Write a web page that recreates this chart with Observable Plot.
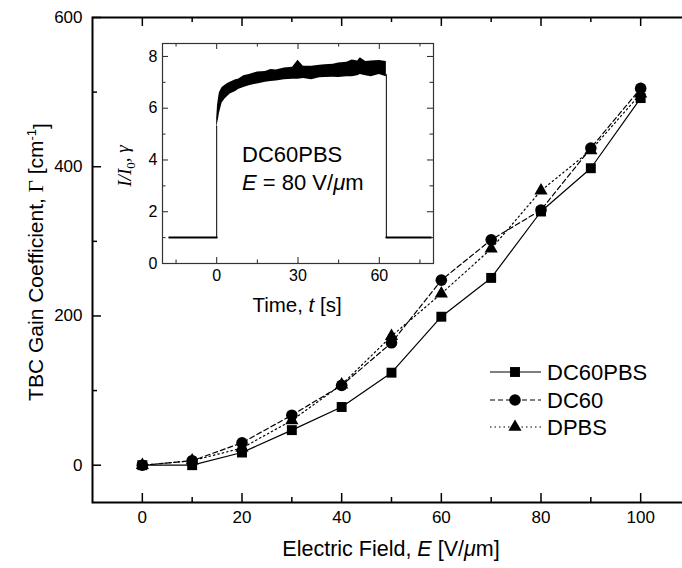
<!DOCTYPE html>
<html><head><meta charset="utf-8">
<script src="https://cdn.jsdelivr.net/npm/d3@7"></script>
<script src="https://cdn.jsdelivr.net/npm/@observablehq/plot@0.6"></script>
<style>
body{margin:0;background:#fff;}
#wrap{position:relative;width:682px;height:568px;overflow:hidden;background:#fff;}
#wrap svg{position:absolute;left:0;top:0;max-width:none !important;}
</style></head><body><div id="wrap"></div>
<script>
// ---- main chart data ----
const field = [0, 10, 20, 30, 40, 50, 60, 70, 80, 90, 100];
const gainDC60PBS = [0, 0, 17, 47, 78, 124, 199, 251, 340, 398, 492];
const gainDC60    = [0, 6, 30, 67, 107, 164, 248, 302, 342, 425, 505];
const gainDPBS    = [0, 6, 23, 60, 108, 173, 230, 290, 368, 422, 498];
const seriesNames = ["DC60PBS", "DC60", "DPBS"];
const xMajorTicks = [0, 20, 40, 60, 80, 100];
const xMinorTicks = [10, 30, 50, 70, 90];
const yMajorTicks = [0, 200, 400, 600];
const yMinorTicks = [100, 300, 500];

// ---- inset data ----
const offBeforeTime = [-17.5, 0];
const offAfterTime = [62.6, 79];
const offLevel = [1, 1];
const riseTime = [0, 0];
const riseLevel = [1, 5.3];
const fallTime = [62.6, 62.6];
const fallLevel = [7.3, 1];
const bandTime = [0, 0.3, 0.7, 1, 1.5, 2, 3, 4, 5, 6, 7, 8, 10, 12, 15, 18, 20, 22, 25, 28, 30, 32, 35, 38, 40, 43, 45, 48, 50, 52, 53, 55, 57, 60, 62.6];
const bandHigh = [5.6, 6.1, 6.4, 6.6, 6.7, 6.8, 6.88, 6.95, 7.0, 7.05, 7.1, 7.12, 7.25, 7.3, 7.4, 7.42, 7.5, 7.48, 7.55, 7.58, 7.85, 7.62, 7.62, 7.66, 7.68, 7.7, 7.75, 7.78, 7.86, 7.82, 7.95, 7.8, 7.82, 7.84, 7.8];
const bandLow  = [5.2, 5.4, 5.6, 5.8, 6.0, 6.2, 6.35, 6.45, 6.55, 6.6, 6.65, 6.72, 6.8, 6.87, 6.94, 7.0, 7.03, 7.05, 7.1, 7.12, 7.12, 7.15, 7.1, 7.18, 7.19, 7.2, 7.19, 7.22, 7.22, 7.25, 7.3, 7.25, 7.22, 7.3, 7.22];
const tMajorTicks = [0, 30, 60];
const tMinorTicks = [-15, 15, 45, 75];
const gMajorTicks = [0, 2, 4, 6, 8];
const gMinorTicks = [1, 3, 5, 7];

const FONT = "'Liberation Sans', Arial, sans-serif";
const wrap = document.getElementById("wrap");

const rows = (vals) => field.map((x, i) => ({x, y: vals[i]}));
const dDC60PBS = rows(gainDC60PBS), dDC60 = rows(gainDC60), dDPBS = rows(gainDPBS);

const W = 690, H = 568;
const mL = 92, mT = 17, mB = 66, mR = 0;
const frameH = H - mT - mB, frameW = W - mL - mR;

const main = Plot.plot({
  width: W, height: H,
  marginLeft: mL, marginRight: mR, marginTop: mT, marginBottom: mB,
  style: {fontFamily: FONT, fontSize: "17px", background: "transparent", color: "black", maxWidth: "none"},
  x: {domain: [-10, 110]},
  y: {domain: [-50, 600]},
  marks: [
    Plot.axisX({ticks: xMajorTicks, tickSize: 0, tickPadding: 8, label: null, fontSize: 17, tickFormat: d => String(d)}),
    Plot.axisY({ticks: yMajorTicks, tickSize: 0, tickPadding: 10, label: null, fontSize: 17, tickFormat: d => String(d)}),
    Plot.ruleX(xMajorTicks, {x: d => d, insetTop: frameH - 9, stroke: "black", strokeWidth: 1.5}),
    Plot.ruleX(xMinorTicks, {x: d => d, insetTop: frameH - 5, stroke: "black", strokeWidth: 1.5}),
    Plot.ruleX(xMajorTicks, {x: d => d, insetBottom: frameH - 9, stroke: "black", strokeWidth: 1.5}),
    Plot.ruleX(xMinorTicks, {x: d => d, insetBottom: frameH - 5, stroke: "black", strokeWidth: 1.5}),
    Plot.ruleY(yMajorTicks, {y: d => d, insetRight: frameW - 9, stroke: "black", strokeWidth: 1.5}),
    Plot.ruleY(yMinorTicks, {y: d => d, insetRight: frameW - 5, stroke: "black", strokeWidth: 1.5}),
    Plot.frame({stroke: "black", strokeWidth: 2}),
    Plot.line(dDC60PBS, {x: "x", y: "y", stroke: "black", strokeWidth: 1.2}),
    Plot.line(dDC60, {x: "x", y: "y", stroke: "black", strokeWidth: 1.2, strokeDasharray: "5,3"}),
    Plot.line(dDPBS, {x: "x", y: "y", stroke: "black", strokeWidth: 1.2, strokeDasharray: "1.5,3"}),
    Plot.dot(dDC60PBS, {x: "x", y: "y", symbol: "square", r: 5.6, fill: "black", stroke: "none"}),
    Plot.dot(dDC60, {x: "x", y: "y", symbol: "circle", r: 5.8, fill: "black", stroke: "none"}),
    Plot.dot(dDPBS, {x: "x", y: "y", symbol: "triangle", r: 4.9, fill: "black", stroke: "none"})
  ]
});
wrap.appendChild(main);

// inset
const iL = 162, iR = 433, iT = 43, iB = 263;
const ifW = iR - iL, ifH = iB - iT;
const inset = Plot.plot({
  width: W, height: H,
  marginLeft: iL, marginRight: W - iR, marginTop: iT, marginBottom: H - iB,
  style: {fontFamily: FONT, fontSize: "16px", background: "transparent", color: "black", maxWidth: "none"},
  x: {domain: [-20, 80]},
  y: {domain: [0, 8.5]},
  marks: [
    Plot.axisX({ticks: tMajorTicks, tickSize: 0, tickPadding: 6, label: null, fontSize: 16, tickFormat: d => String(d)}),
    Plot.axisY({ticks: gMajorTicks, tickSize: 0, tickPadding: 5, label: null, fontSize: 16, tickFormat: d => String(d)}),
    Plot.ruleX(tMajorTicks, {x: d => d, insetTop: ifH - 6, stroke: "#222", strokeWidth: 1}),
    Plot.ruleX(tMinorTicks, {x: d => d, insetTop: ifH - 3.5, stroke: "#222", strokeWidth: 1}),
    Plot.ruleX(tMajorTicks, {x: d => d, insetBottom: ifH - 6, stroke: "#222", strokeWidth: 1}),
    Plot.ruleX(tMinorTicks, {x: d => d, insetBottom: ifH - 3.5, stroke: "#222", strokeWidth: 1}),
    Plot.ruleY(gMajorTicks, {y: d => d, insetRight: ifW - 6, stroke: "#222", strokeWidth: 1}),
    Plot.ruleY(gMinorTicks, {y: d => d, insetRight: ifW - 3.5, stroke: "#222", strokeWidth: 1}),
    Plot.ruleY(gMajorTicks, {y: d => d, insetLeft: ifW - 6, stroke: "#222", strokeWidth: 1}),
    Plot.ruleY(gMinorTicks, {y: d => d, insetLeft: ifW - 3.5, stroke: "#222", strokeWidth: 1}),
    Plot.frame({stroke: "#333", strokeWidth: 1.2}),
    Plot.line(offBeforeTime.map((t, i) => ({t, v: offLevel[i]})), {x: "t", y: "v", stroke: "black", strokeWidth: 2}),
    Plot.line(offAfterTime.map((t, i) => ({t, v: offLevel[i]})), {x: "t", y: "v", stroke: "black", strokeWidth: 2}),
    Plot.line(riseTime.map((t, i) => ({t, v: riseLevel[i]})), {x: "t", y: "v", stroke: "black", strokeWidth: 1}),
    Plot.line(fallTime.map((t, i) => ({t, v: fallLevel[i]})), {x: "t", y: "v", stroke: "black", strokeWidth: 1}),
    Plot.areaY(bandTime.map((t, i) => ({t, lo: bandLow[i], hi: bandHigh[i]})), {x: "t", y1: "lo", y2: "hi", fill: "black"})
  ]
});
wrap.appendChild(inset);

// ---- texts with mixed styles ----
const ms = d3.select(main);
// y title
const yt = ms.append("text").attr("transform", "translate(36,262) rotate(-90)")
  .attr("text-anchor", "middle").attr("dy", "0.35em")
  .style("font-family", FONT).style("font-size", "21px").attr("fill", "black");
yt.append("tspan").text("TBC Gain Coefficient, ");
yt.append("tspan").style("font-family", "'Liberation Serif', serif").text("Γ");
yt.append("tspan").text(" [cm");
yt.append("tspan").attr("dy", "-0.55em").style("font-size", "13px").text("-1");
yt.append("tspan").attr("dy", "0.55em").text("]");
// x title
const xt = ms.append("text").attr("x", 391).attr("y", 556)
  .attr("text-anchor", "middle").style("font-family", FONT).style("font-size", "21.5px").attr("fill", "black");
xt.append("tspan").text("Electric Field, ");
xt.append("tspan").style("font-style", "italic").text("E");
xt.append("tspan").text(" [V/");
xt.append("tspan").style("font-style", "italic").text("μ");
xt.append("tspan").text("m]");

// legend
const legendY = [372, 400, 427];
const legendDash = [null, "5,3", "1.5,3"];
const legendSym = [d3.symbolSquare, d3.symbolCircle, d3.symbolTriangle];
const legendR = [5.6, 5.8, 4.9];
seriesNames.forEach((name, i) => {
  const g = ms.append("g");
  g.append("line").attr("x1", 490).attr("x2", 541).attr("y1", legendY[i]).attr("y2", legendY[i])
    .attr("stroke", "black").attr("stroke-width", 1.2).attr("stroke-dasharray", legendDash[i]);
  g.append("path").attr("transform", `translate(515,${legendY[i]})`)
    .attr("d", d3.symbol(legendSym[i], Math.PI * legendR[i] * legendR[i])()).attr("fill", "black");
  g.append("text").attr("x", 547).attr("y", legendY[i]).attr("dy", "0.35em").attr("text-anchor", "start")
    .style("font-family", FONT).style("font-size", "22px").attr("fill", "black").text(name);
});

// inset texts
const is = d3.select(inset);
const iy = is.append("text").attr("transform", "translate(124,166) rotate(-90)")
  .attr("text-anchor", "middle").attr("dy", "0.35em")
  .style("font-family", "'Liberation Serif', 'DejaVu Serif', serif").style("font-size", "19px").style("font-style", "italic").attr("fill", "black");
iy.append("tspan").text("I/I");
iy.append("tspan").attr("dy", "0.3em").style("font-size", "13px").style("font-style", "normal").text("0");
iy.append("tspan").attr("dy", "-0.3em").text(", γ");

const ix = is.append("text").attr("x", 297).attr("y", 305).attr("dy", "0.35em")
  .attr("text-anchor", "middle").style("font-family", FONT).style("font-size", "20.5px").attr("fill", "black");
ix.append("tspan").text("Time, ");
ix.append("tspan").style("font-style", "italic").text("t");
ix.append("tspan").text(" [s]");

is.append("text").attr("x", 242).attr("y", 154).attr("dy", "0.35em").attr("text-anchor", "start")
  .style("font-family", FONT).style("font-size", "22px").attr("fill", "black").text("DC60PBS");
const ie = is.append("text").attr("x", 242).attr("y", 182).attr("dy", "0.35em").attr("text-anchor", "start")
  .style("font-family", FONT).style("font-size", "22px").attr("fill", "black");
ie.append("tspan").style("font-style", "italic").text("E");
ie.append("tspan").text(" = 80 V/");
ie.append("tspan").style("font-style", "italic").text("μ");
ie.append("tspan").text("m");
</script></body></html>
